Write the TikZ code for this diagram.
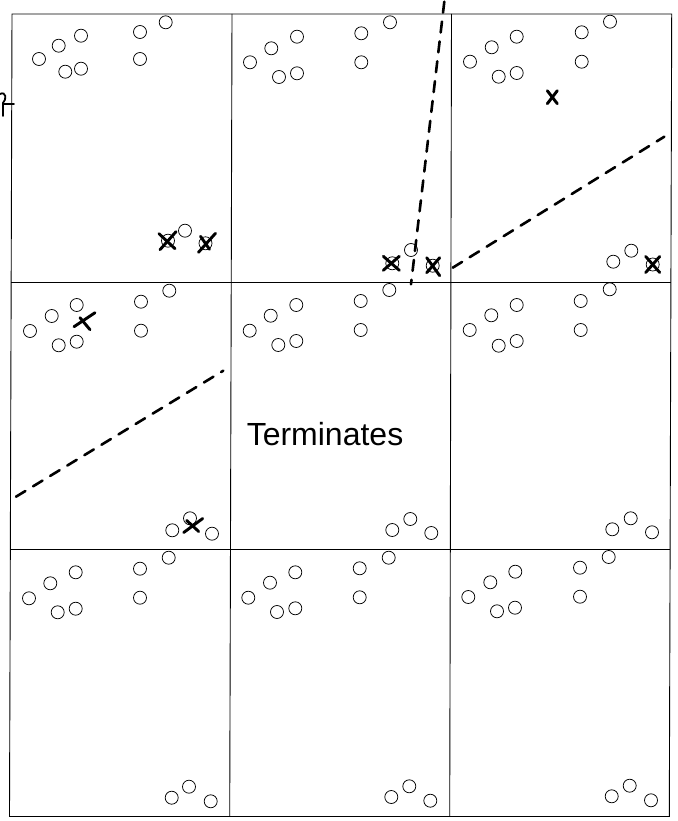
\documentclass[tikz,border=0pt]{standalone}
\usepackage{fontspec}
\setmainfont{Liberation Sans}
\begin{document}
\begin{tikzpicture}[x=1pt,y=-1pt,
  dot/.style={circle,draw,minimum size=13pt,inner sep=0pt,line width=0.75pt},
  gridline/.style={line width=0.9pt},
  cut/.style={line width=2.6pt,dash pattern=on 11pt off 9pt,line cap=round},
  xs/.style={line width=2.9pt,line cap=round}]
\useasboundingbox (0,0) rectangle (677,821);
% grid
\coordinate (g1) at (12,14);   \coordinate (g2) at (9.5,816.5);
\coordinate (g3) at (232,14);  \coordinate (g4) at (229.7,816.5);
\coordinate (g5) at (451.5,14);\coordinate (g6) at (449.7,816.5);
\coordinate (g7) at (671.7,14);\coordinate (g8) at (669.3,816.5);
\coordinate (h1) at (11,282);  \coordinate (h2) at (670.5,282);
\coordinate (h3) at (10.5,549);\coordinate (h4) at (670,549);
\draw[gridline] (g1) -- (g7) -- (g8) -- (g2) -- cycle;
\draw[gridline] (g3) -- (g4);
\draw[gridline] (g5) -- (g6);
\draw[gridline] (h1) -- (h2);
\draw[gridline] (h3) -- (h4);
% plain circles
\foreach \p [count=\i] in {
  (39,59),(58.7,45.7),(81,35.7),(65.3,71.7),(81,68.7),(140,32),(140,59),(165.7,22.3),(185,230.7),
  (250,62.3),(271.3,48.3),(297,36.7),(279,77),(297,73.3),(361.3,33.3),(361.3,62.3),(390,22.3),(411,250),
  (470,61.7),(491.7,47.3),(516.7,36.7),(498.7,76.7),(516.7,73),(581.7,32.3),(581.7,61.7),(610,21.7),(613.3,261.7),(631.3,250.7),
  (30,331),(51.7,316),(76.7,305),(58.7,345.3),(76.7,341.7),(141,301.7),(141,330.7),(169.3,290.7),(172.3,530.3),(190,518.3),(212,533.7),
  (249.7,330.7),(270.7,315.7),(296.3,305),(278.3,345),(296.3,341),(360.7,301),(360.7,330),(389.3,290),(392.3,530),(410.3,519),(431.3,533),
  (469.7,330),(491.3,315.3),(516.7,305),(498.7,345.7),(516.7,341),(580.7,301),(580.7,330),(609.7,289.3),(612.3,529.3),(630.7,518.3),(652,532.3),
  (29,598.3),(50.3,583.3),(75.7,572.3),(57.7,612.3),(75.7,608.7),(140,568.7),(140,597.7),(168.7,557.7),(171.7,797.7),(189,786.7),(210.7,801.3),
  (248.3,597.7),(270,582.7),(295.3,572.3),(277,612),(295.3,608.3),(359.7,568.3),(359.7,597.3),(388.7,557.7),(391.3,797),(409.3,786.3),(430.3,800.7),
  (468.3,597),(490.3,582.3),(515.3,571.7),(497,611.3),(515,607.7),(580,567.7),(580,596.7),(608.7,557),(611.7,796.3),(629.7,785.7),(651,800.3)}
  \node[dot] (c\i) at \p {};
% crossed-out circles
\node[dot] (xa) at (168,240.7) {};
\node[dot] (xb) at (205.5,243.3) {};
\node[dot] (xc) at (392.3,263.3) {};
\node[dot] (xd) at (432.7,265.7) {};
\node[dot] (xe) at (652.7,264.5) {};
\draw[xs] ([shift={(-9,-7)}]xa.center) -- ([shift={(7,8)}]xa.center);
\draw[xs] ([shift={(-8,9)}]xa.center) -- ([shift={(8,-9)}]xa.center);
\draw[xs] ([shift={(-5,-7)}]xb.center) -- ([shift={(4,6)}]xb.center);
\draw[xs] ([shift={(-7,9)}]xb.center) -- ([shift={(10,-10)}]xb.center);
\draw[xs] ([shift={(-9,-7)}]xc.center) -- ([shift={(7,7)}]xc.center);
\draw[xs] ([shift={(-9,7)}]xc.center) -- ([shift={(7,-7)}]xc.center);
\draw[xs] ([shift={(-6,-8)}]xd.center) -- ([shift={(7,10)}]xd.center);
\draw[xs] ([shift={(-6,7)}]xd.center) -- ([shift={(7,-8)}]xd.center);
\draw[xs] ([shift={(-7,-8)}]xe.center) -- ([shift={(7,8)}]xe.center);
\draw[xs] ([shift={(-7,8)}]xe.center) -- ([shift={(7,-8)}]xe.center);
% lone crosses
\coordinate (ya) at (552.3,96.7);
\draw[xs] ([shift={(-5,-6)}]ya) -- ([shift={(5,7)}]ya);
\draw[xs] ([shift={(-5,7)}]ya) -- ([shift={(5,-6)}]ya);
\coordinate (yb) at (85,321.7);
\draw[xs] ([shift={(-11,5)}]yb) -- ([shift={(10,-9)}]yb);
\draw[xs] ([shift={(-5,-4)}]yb) -- ([shift={(5,8)}]yb);
\coordinate (yc) at (192.7,525.5);
\draw[xs] ([shift={(-9,7)}]yc) -- ([shift={(10,-7)}]yc);
\draw[xs] ([shift={(-6,-5)}]yc) -- ([shift={(6,6)}]yc);
% dashed separating lines
\coordinate (la) at (444.3,1.7);  \coordinate (lb) at (411,284.3);
\coordinate (lc) at (452.7,267.7);\coordinate (ld) at (664.3,136.7);
\coordinate (le) at (16,496.7);   \coordinate (lf) at (223.3,370.7);
\draw[cut] (la) -- (lb);
\draw[cut] (lc) -- (ld);
\draw[cut] (le) -- (lf);
% label
\node[anchor=base,inner sep=0pt,font=\fontsize{32}{36}\selectfont] (term) at (325,445) {Terminates};
% cropped handwriting fragment at left edge
\draw[line width=1.8pt,line cap=round] (0,94) .. controls (6,91) and (7,99) .. (3,103) -- (3,116);
\draw[line width=1.8pt,line cap=round] (3,104) -- (14,104);
\end{tikzpicture}
\end{document}
